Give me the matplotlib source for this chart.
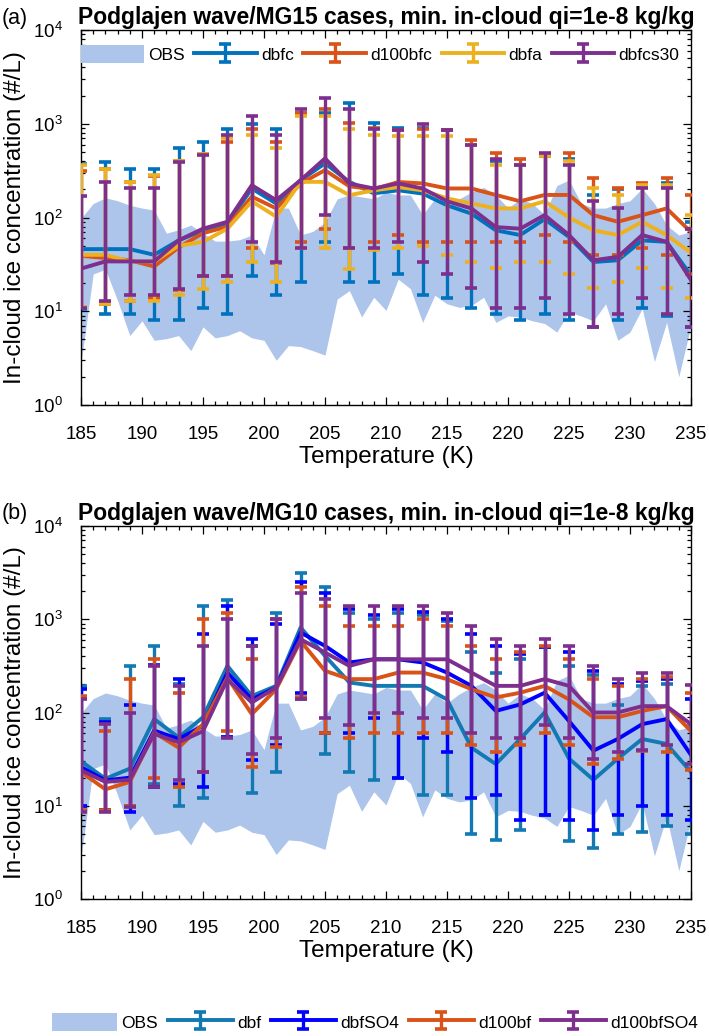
import numpy as np
import matplotlib
matplotlib.use('Agg')
import matplotlib.pyplot as plt
from matplotlib.patches import Patch
from matplotlib.ticker import MultipleLocator, LogLocator, NullFormatter

plt.rcParams['font.family'] = ['Liberation Sans', 'DejaVu Sans']
plt.rcParams['mathtext.default'] = 'regular'

# ---------------- data ----------------
temps = [185, 187, 189, 191, 193, 195, 197, 199, 201, 203, 205, 207, 209,
         211, 213, 215, 217, 219, 221, 223, 225, 227, 229, 231, 233, 235]

obs_t = list(range(185, 236))
obs_hi = [98, 141, 162, 151, 135, 126, 120, 68, 74, 83, 68, 56, 56, 58, 65, 40,
          126, 126, 65, 71, 89, 158, 174, 166, 158, 186, 174, 174, 107, 158, 126,
          158, 186, 209, 174, 126, 158, 141, 107, 219, 251, 141, 126, 126, 141,
          151, 204, 141, 83, 65, 71]
obs_lo = [2.8, 25, 28, 13, 5.5, 7.9, 4.9, 5.1, 5.5, 3.8, 6.8, 5.2, 5.5, 6.2, 5.2,
          4.9, 3.0, 4.3, 4.2, 3.8, 3.4, 13.5, 16.6, 8.7, 14.1, 10.2, 22, 17.4, 7.6,
          14.8, 12, 11, 11.5, 14.1, 7.6, 8.9, 8.7, 7.9, 7.4, 6.0, 9.8, 8.9, 7.9, 12,
          4.9, 6.0, 10.7, 2.9, 7.6, 2.0, 7.1]

# panel (a)
dbfc_mean = [46, 46, 46, 40, 57, 73, 86, 204, 141, 250, 378, 240, 181,
             195, 180, 135, 110, 73, 65, 96, 62, 33.5, 35, 57, 55, 24]
dbfc_hi = [370, 390, 333, 333, 547, 645, 875, 1000, 875, 1300, 1300, 1660, 1030,
           900, 900, 850, 600, 400, 360, 450, 425, 174, 200, 220, 235, 90]
dbfc_lo = [10.5, 9.4, 9.4, 8.0, 8.0, 10.7, 9.4, 24, 14.8, 20.5, 55, 20.5, 20.5,
           25, 14.8, 13.7, 10.8, 9.4, 8.0, 9.4, 8.0, 6.8, 8.0, 10.8, 9.0, 6.8]

d100bfc_mean = [39, 37, 35, 30, 48, 68, 80, 167, 125, 230, 320, 215, 200,
                239, 231, 204, 204, 174, 149, 174, 174, 106, 90, 106, 125, 70]
d100bfc_hi = [310, 330, 240, 280, 400, 470, 645, 875, 645, 1300, 1450, 1030, 900,
              850, 875, 850, 670, 490, 425, 450, 490, 265, 204, 235, 265, 174]
d100bfc_lo = [11, 12, 13, 14, 17, 24, 24, 47, 33, 55, 76, 47, 55,
              65, 55, 55, 55, 55, 55, 65, 55, 40, 40, 47, 40, 25]

dbfa_mean = [40, 40, 34, 34, 50, 55, 76, 149, 102, 240, 240, 173, 195,
             211, 195, 160, 141, 125, 125, 149, 100, 73, 65, 90, 65, 42]
dbfa_hi = [365, 333, 239, 282, 400, 470, 700, 750, 547, 1200, 1200, 875, 750,
           740, 740, 740, 600, 365, 360, 450, 400, 204, 174, 220, 220, 106]
dbfa_lo = [11, 12, 13, 13, 14.8, 17.4, 20.5, 33.5, 20.5, 47, 47, 28.5, 45,
           47, 50, 40, 33.5, 29, 33.5, 33.5, 25, 17.8, 20.5, 29, 17.8, 13.7]

dbfcs30_mean = [28.5, 34, 34, 34, 57, 76, 90, 221, 153, 250, 427, 230, 204,
                231, 204, 149, 125, 79, 76, 106, 65, 35, 38, 65, 55, 21.5]
dbfcs30_hi = [168, 239, 204, 204, 394, 465, 750, 1200, 750, 1450, 1860, 1450, 875,
              850, 1000, 850, 590, 425, 365, 490, 365, 149, 125, 204, 204, 76]
dbfcs30_lo = [10.7, 13, 14.8, 14.8, 17.4, 24, 24, 55, 33.5, 47, 106, 47, 47,
              55, 33.5, 25, 17.8, 10.8, 10.8, 13.7, 9.4, 6.8, 9.4, 13.7, 9.4, 6.8]

# panel (b)
dbf_mean = [30, 19.5, 25, 85, 54, 89, 316, 150, 193, 815, 405, 210, 193,
            193, 193, 138, 42, 28, 52, 100, 32, 19, 32, 52, 46, 23]
dbf_hi = [193, 85, 316, 520, 200, 1390, 1600, 520, 1160, 3160, 2240, 1180, 1000,
          1180, 1100, 950, 440, 268, 372, 500, 316, 250, 120, 193, 200, 72]
dbf_lo = [10, 9, 10, 17, 10, 12, 55, 13.7, 23, 140, 36, 23, 19,
          20, 13, 13, 5, 4.3, 5.5, 8, 4.2, 3.5, 5, 5.2, 6, 5]

dbfSO4_mean = [26, 18.7, 20, 64, 52, 72, 268, 138, 186, 720, 518, 344, 372,
               372, 344, 268, 193, 104, 122, 163, 81, 39, 52, 75, 85, 35]
dbfSO4_hi = [180, 80, 120, 320, 230, 700, 1400, 610, 900, 2500, 1900, 1300, 1100,
             1300, 1200, 1000, 700, 520, 420, 500, 440, 280, 200, 220, 230, 138]
dbfSO4_lo = [10, 9, 8.5, 16, 17, 16, 55, 31, 45, 163, 60, 61, 87,
             20, 53, 38, 12, 13, 7, 8, 7, 5.5, 8, 10, 8, 7]

d100bf_mean = [23, 15, 18, 61, 42, 75, 237, 96, 178, 585, 280, 228, 228,
               268, 268, 228, 178, 145, 163, 193, 138, 89, 89, 104, 117, 63]
d100bf_hi = [150, 63, 230, 372, 163, 1000, 1160, 372, 1000, 2240, 1390, 850, 850,
             850, 1000, 850, 520, 372, 440, 520, 372, 230, 193, 230, 240, 163]
d100bf_lo = [9, 9, 10, 20, 16, 23, 63, 26, 43, 145, 61, 53, 61,
             61, 61, 61, 45, 38, 45, 61, 45, 28, 32, 39, 38, 24]

d100bfSO4_mean = [24, 18, 19, 59, 48, 63, 228, 128, 186, 610, 440, 316, 372,
                  372, 372, 372, 268, 193, 193, 228, 193, 100, 100, 117, 117, 75]
d100bfSO4_hi = [141, 75, 100, 316, 193, 520, 1000, 520, 1000, 1930, 1640, 1390, 1390,
                1390, 1390, 1180, 850, 610, 520, 610, 520, 316, 230, 268, 268, 196]
d100bfSO4_lo = [8.5, 8.5, 9.8, 16, 19, 23, 53, 36, 53, 141, 87, 73, 100,
                100, 87, 87, 61, 53, 53, 73, 53, 32, 38, 40, 45, 28]

labels_a = ['dbfc', 'd100bfc', 'dbfa', 'dbfcs30']
labels_b = ['dbf', 'dbfSO4', 'd100bf', 'd100bfSO4']
title_a = 'Podglajen wave/MG15 cases, min. in-cloud qi=1e-8 kg/kg'
title_b = 'Podglajen wave/MG10 cases, min. in-cloud qi=1e-8 kg/kg'

# ---------------- style ----------------
OBS_COLOR = '#adc5ea'
colors_a = ['#0072BD', '#D95319', '#EDB120', '#7E2F8E']
colors_b = ['#1279b3', '#0000FF', '#D95319', '#7E2F8E']

W, H = 709, 1036
fig = plt.figure(figsize=(W / 100, H / 100), dpi=100)
ax1 = fig.add_axes([81 / W, 1 - 405 / H, 610 / W, 375 / H])
ax2 = fig.add_axes([81 / W, 1 - 899 / H, 610 / W, 373 / H])


def draw(ax, series, title, tag):
    ax.fill_between(obs_t, obs_lo, obs_hi, color=OBS_COLOR, lw=0, zorder=1)
    handles = [Patch(facecolor=OBS_COLOR, edgecolor='none', label='OBS')]
    for i, (name, mean, lo, hi, col) in enumerate(series):
        m = np.array(mean, float)
        err = [m - np.array(lo, float), np.array(hi, float) - m]
        h = ax.errorbar(temps, m, yerr=err, color=col, lw=2.8, elinewidth=2.4,
                        capsize=4.2, capthick=2.6, label=name, zorder=2 + i)
        handles.append(h)
    ax.set_yscale('log')
    ax.set_ylim(1, 1e4)
    ax.set_xlim(185, 235)
    ax.xaxis.set_major_locator(MultipleLocator(5))
    ax.xaxis.set_minor_locator(MultipleLocator(1))
    ax.yaxis.set_major_locator(LogLocator(base=10, numticks=10))
    ax.yaxis.set_minor_locator(LogLocator(base=10, subs=np.arange(2, 10), numticks=20))
    ax.yaxis.set_minor_formatter(NullFormatter())
    ax.tick_params(which='both', direction='in', top=True, right=True,
                   labelsize=13.5, width=0.9)
    ax.tick_params(which='major', length=6)
    ax.tick_params(which='minor', length=3)
    ax.tick_params(axis='x', which='major', pad=15)
    ax.tick_params(axis='y', which='major', pad=13)
    for s in ax.spines.values():
        s.set_linewidth(1.0)
    ax.set_xlabel('Temperature (K)', fontsize=17.5, labelpad=2)
    ax.set_ylabel('In-cloud ice concentration (#/L)', fontsize=17.5, labelpad=5)
    ax.set_title(title, fontsize=16.5, fontweight='bold', pad=4)
    bb = ax.get_position()
    fig.text(2 / W, bb.y1 + 12 / H, tag, fontsize=15.5, va='center', ha='left')
    return handles


series_a = list(zip(labels_a,
                    [dbfc_mean, d100bfc_mean, dbfa_mean, dbfcs30_mean],
                    [dbfc_lo, d100bfc_lo, dbfa_lo, dbfcs30_lo],
                    [dbfc_hi, d100bfc_hi, dbfa_hi, dbfcs30_hi],
                    colors_a))
series_b = list(zip(labels_b,
                    [dbf_mean, dbfSO4_mean, d100bf_mean, d100bfSO4_mean],
                    [dbf_lo, dbfSO4_lo, d100bf_lo, d100bfSO4_lo],
                    [dbf_hi, dbfSO4_hi, d100bf_hi, d100bfSO4_hi],
                    colors_b))

ha = draw(ax1, series_a, title_a, '(a)')
hb = draw(ax2, series_b, title_b, '(b)')

leg_kw = dict(ncol=5, frameon=False, fontsize=12.5,
              handleheight=1.2, handletextpad=0.25, columnspacing=0.55,
              borderpad=0, borderaxespad=0)
ax1.legend(handles=ha, labels=['OBS'] + labels_a, loc='center left',
           bbox_to_anchor=(0.0, 0.935), handlelength=3.6, **leg_kw)
fig.legend(handles=hb, labels=['OBS'] + labels_b, loc='center',
           bbox_to_anchor=(375 / W, 1 - 1022 / H), handlelength=3.75, **leg_kw)

fig.savefig('out.png', dpi=100)
